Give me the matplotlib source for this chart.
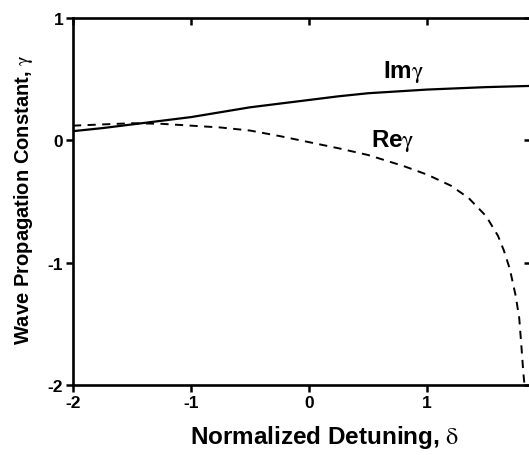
import numpy as np
import matplotlib
matplotlib.use("Agg")
import matplotlib.pyplot as plt

plt.rcParams['font.family'] = ['Liberation Sans', 'DejaVu Sans']
plt.rcParams['mathtext.fontset'] = 'stix'

# ─── Data ────────────────────────────────────────────────────────────────────
delta_im = [-2.0, -1.75, -1.5, -1.25, -1.0, -0.75, -0.5, -0.25, 0.0,
            0.25, 0.5, 0.75, 1.0, 1.25, 1.5, 1.88]
im_gamma = [0.075, 0.10, 0.13, 0.16, 0.19, 0.23, 0.27, 0.30, 0.33,
            0.36, 0.385, 0.40, 0.415, 0.425, 0.435, 0.445]

delta_re = [-2.0, -1.75, -1.5, -1.25, -1.0, -0.75, -0.5, -0.25, 0.0,
            0.25, 0.5, 0.8, 1.0, 1.2, 1.35, 1.5, 1.6, 1.65, 1.7,
            1.75, 1.78, 1.80, 1.815, 1.825]
re_gamma = [0.12, 0.13, 0.14, 0.135, 0.12, 0.105, 0.08, 0.035, -0.015,
            -0.065, -0.12, -0.21, -0.28, -0.37, -0.47, -0.62, -0.78, -0.90, -1.05,
            -1.27, -1.45, -1.70, -1.90, -2.0]

xticks = [-2, -1, 0, 1]
yticks = [-2, -1, 0, 1]

# ─── Figure ──────────────────────────────────────────────────────────────────
W, H = 529, 456
fig = plt.figure(figsize=(W / 100, H / 100), dpi=100)
# axes run slightly past the right edge of the canvas (cropped original)
ax = fig.add_axes([73 / W, (H - 386) / H, (531 - 73) / W, (386 - 19) / H])

ax.plot(delta_im, im_gamma, color='black', lw=1.6)
ax.plot(delta_re, re_gamma, color='black', lw=1.4, dashes=(4.2, 3.3))

ax.set_xlim(-2, 1.88)
ax.set_ylim(-2, 1)
ax.set_xticks(xticks)
ax.set_yticks(yticks)
ax.set_xticklabels([str(t) for t in xticks], fontweight='bold', fontsize=12.5)
ax.set_yticklabels([str(t) for t in yticks], fontweight='bold', fontsize=12.5)

for s in ax.spines.values():
    s.set_linewidth(1.9)
ax.tick_params(axis='both', which='major', direction='out', length=5, width=1.8,
               pad=2)
ax.tick_params(top=True, right=True)
for t in ax.xaxis.get_major_ticks():
    t.tick2line.set_marker(3)  # top ticks point inward (down)
for t in ax.yaxis.get_major_ticks():
    t.tick2line.set_marker(0)  # right ticks point inward (left)

ax.set_xlabel(r"Normalized Detuning, $\mathrm{\delta}$", fontsize=17.5,
              fontweight='bold')
ax.xaxis.set_label_coords((325 - 73) / 458, -(438 - 386) / 367)
ax.set_ylabel(r"Wave Propagation Constant, $\mathrm{\gamma}$", fontsize=14.5,
              fontweight='bold')
ax.yaxis.set_label_coords(-(73 - 24) / 458, (386 - 200) / 367)
ax.xaxis.label.set_va('center')
ax.yaxis.label.set_va('center')

ax.text(0.80, 0.565, r"Im$\mathrm{\gamma}$", fontsize=17.5, fontweight='bold',
        ha='center', va='center')
ax.text(0.71, 0.0, r"Re$\mathrm{\gamma}$", fontsize=17.5, fontweight='bold',
        ha='center', va='center')

fig.savefig("out.png", dpi=100)
